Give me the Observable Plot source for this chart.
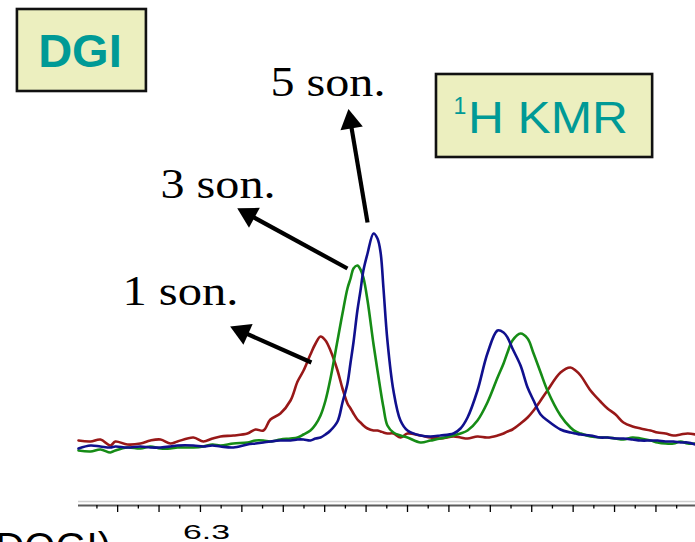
<!DOCTYPE html>
<html><head><meta charset="utf-8">
<script src="https://cdn.jsdelivr.net/npm/d3@7"></script>
<script src="https://cdn.jsdelivr.net/npm/@observablehq/plot@0.6"></script>
<style>html,body{margin:0;padding:0;background:#fff;overflow:hidden;} #chart svg{display:block;}</style>
</head><body><div id="chart"></div>
<script>
// chemical shift (ppm)
const shift = [6.3589,6.3531,6.3483,6.3435,6.3411,6.3353,6.3290,6.3242,6.3193,6.3145,6.3111,6.3034,6.2986,6.2942,6.2903,6.2841,6.2773,6.2734,6.2696,6.2662,6.2614,6.2565,6.2531,6.2502,6.2469,6.2444,6.2420,6.2396,6.2372,6.2338,6.2314,6.2290,6.2275,6.2261,6.2242,6.2227,6.2213,6.2193,6.2164,6.2145,6.2130,6.2116,6.2097,6.2068,6.2034,6.2000,6.1937,6.1889,6.1841,6.1778,6.1744,6.1710,6.1662,6.1614,6.1565,6.1536,6.1517,6.1493,6.1454,6.1420,6.1391,6.1357,6.1324,6.1261,6.1213,6.1188,6.1164,6.1116,6.1068,6.1034,6.0995,6.0957,6.0913,6.0874,6.0826,6.0792,6.0754,6.0715,6.0681,6.0647,6.0609];
// intensities (arbitrary units)
const son1 = [15,14,16,10,14,11,12,15,16,12,14,18,14,17,19,20,22,26,25,36,42,55,74,85,101,112,119,115,105,85,67,52,47,42,36,33,30,27,25,25,24,23,22,22,18,22,20,18,17,19,18,17,19,18,20,22,24,26,32,38,45,55,65,83,88,85,80,65,54,47,41,33,29,27,25,23,22,20,21,22,21];
const son3 = [5,4,6,3,5,8,7,9,7,7,8,8,9,11,10,12,13,15,15,14,16,17,18,21,25,31,40,55,77,115,142,167,177,187,190,186,178,155,111,85,65,48,30,23,20,18,13,15,17,20,22,25,35,53,78,92,103,115,122,117,102,83,65,40,28,24,22,19,18,18,17,16,18,17,15,13,12,12,14,12,12];
const son5 = [7,10,9,8,9,8,9,8,8,9,10,10,9,10,9,8,11,12,13,14,15,15,16,16,15,17,18,21,25,34,53,72,93,113,145,165,185,202,222,217,203,167,115,65,35,25,20,19,20,22,27,38,65,102,125,123,118,107,90,68,55,41,35,26,23,22,21,20,18,18,17,17,16,15,15,15,14,14,13,13,11];

const majorTicks = [6.34,6.32,6.30,6.28,6.26,6.24,6.22,6.20,6.18,6.16,6.14,6.12,6.10,6.08];
const minorTicks = [6.35,6.33,6.31,6.29,6.27,6.25,6.23,6.21,6.19,6.17,6.15,6.13,6.11,6.09,6.07];
const tickLabels = [6.3];

// annotations (in ppm / intensity units)
const arrowTail = [[6.2193,233],[6.2290,187],[6.2464,93]];
const arrowHead = [[6.2275,333.5],[6.2767,240.9],[6.2799,123.8]];
const arrowAngle = [-9.4,-61.4,-66];
const sonLabels = [["5 son.",6.2662,360],["3 son.",6.3193,258],["1 son.",6.3377,151]];
const boxes = [[6.3884,6.3261,364,446],[6.1860,6.0816,298,381]];

const rows = shift.map((s,i)=>({shift:s, son1:son1[i], son3:son3[i], son5:son5[i]}));
const arrows = arrowTail.map((t,i)=>({x1:t[0],y1:t[1],x2:arrowHead[i][0],y2:arrowHead[i][1],rot:arrowAngle[i]}));
const labels = sonLabels.map(d=>({text:d[0],x:d[1],y:d[2]}));
const boxRows = boxes.map(b=>({x1:b[0],x2:b[1],y1:b[2],y2:b[3]}));

const teal = "#009a96";
const svg = Plot.plot({
  width: 695, height: 542,
  marginLeft: 78, marginRight: 0, marginTop: 0, marginBottom: 37,
  style: {fontFamily: "Liberation Sans, Arial, sans-serif", background: "#fff", overflow: "visible"},
  x: {domain: [6.3589, 6.0609]},
  y: {domain: [-50, 455], axis: null},
  marks: [
    Plot.ruleY([-46], {stroke: "#cfcfcf", strokeWidth: 1.3}),
    Plot.ruleY([-50], {stroke: "#5a5a5a", strokeWidth: 2.2}),
    Plot.axisX({ticks: minorTicks, tickSize: 3.5, tickFormat: () => "", strokeWidth: 1.3}),
    Plot.axisX({ticks: majorTicks, tickSize: 7, tickFormat: () => "", strokeWidth: 1.3}),
    Plot.axisX({ticks: tickLabels, tickSize: 0, tickPadding: 19, fontSize: 21, dx: 6, tickFormat: d => d.toFixed(1)}),
    Plot.line(rows, {x: "shift", y: "son1", stroke: "#981818", strokeWidth: 2.6, curve: "catmull-rom"}),
    Plot.line(rows, {x: "shift", y: "son3", stroke: "#168c16", strokeWidth: 2.6, curve: "catmull-rom"}),
    Plot.line(rows, {x: "shift", y: "son5", stroke: "#10108e", strokeWidth: 2.6, curve: "catmull-rom"}),
    Plot.link(arrows, {x1: "x1", y1: "y1", x2: "x2", y2: "y2", stroke: "#000", strokeWidth: 4.2}),
    Plot.dot(arrows, {x: "x2", y: "y2", symbol: "triangle", r: 8.4, fill: "#000", stroke: "none", rotate: "rot"}),
    Plot.text(labels, {x: "x", y: "y", text: "text", textAnchor: "start", lineAnchor: "bottom", fontSize: 42, fontFamily: "Liberation Serif, Times New Roman, serif", fill: "#000"}),
    Plot.rect(boxRows, {x1: "x1", x2: "x2", y1: "y1", y2: "y2", fill: "#ecefbf", stroke: "#111", strokeWidth: 2.6}),
    Plot.text(["DGI"], {x: 6.3582, y: 389, text: d => d, textAnchor: "middle", lineAnchor: "bottom", fontSize: 47, fontWeight: "bold", fill: teal}),
    Plot.text(["1"], {x: 6.1778, y: 342, text: d => d, textAnchor: "start", lineAnchor: "bottom", fontSize: 23, fill: teal}),
    Plot.text(["H KMR"], {x: 6.1708, y: 323, text: d => d, textAnchor: "start", lineAnchor: "bottom", fontSize: 45, fill: teal}),
    Plot.text(["DOGI)"], {x: 6.3990, y: -105, text: d => d, textAnchor: "start", lineAnchor: "bottom", fontSize: 40, fill: "#000"})
  ]
});
const fits = {"5 son.": 115, "3 son.": 115, "1 son.": 116, "H KMR": 160, "6.3": 47};
d3.select(svg).selectAll("text").each(function(){
  const t = this.textContent;
  if (fits[t]) { this.setAttribute("textLength", fits[t]); this.setAttribute("lengthAdjust", "spacingAndGlyphs"); }
});
document.getElementById("chart").appendChild(svg);
</script>
</body></html>
